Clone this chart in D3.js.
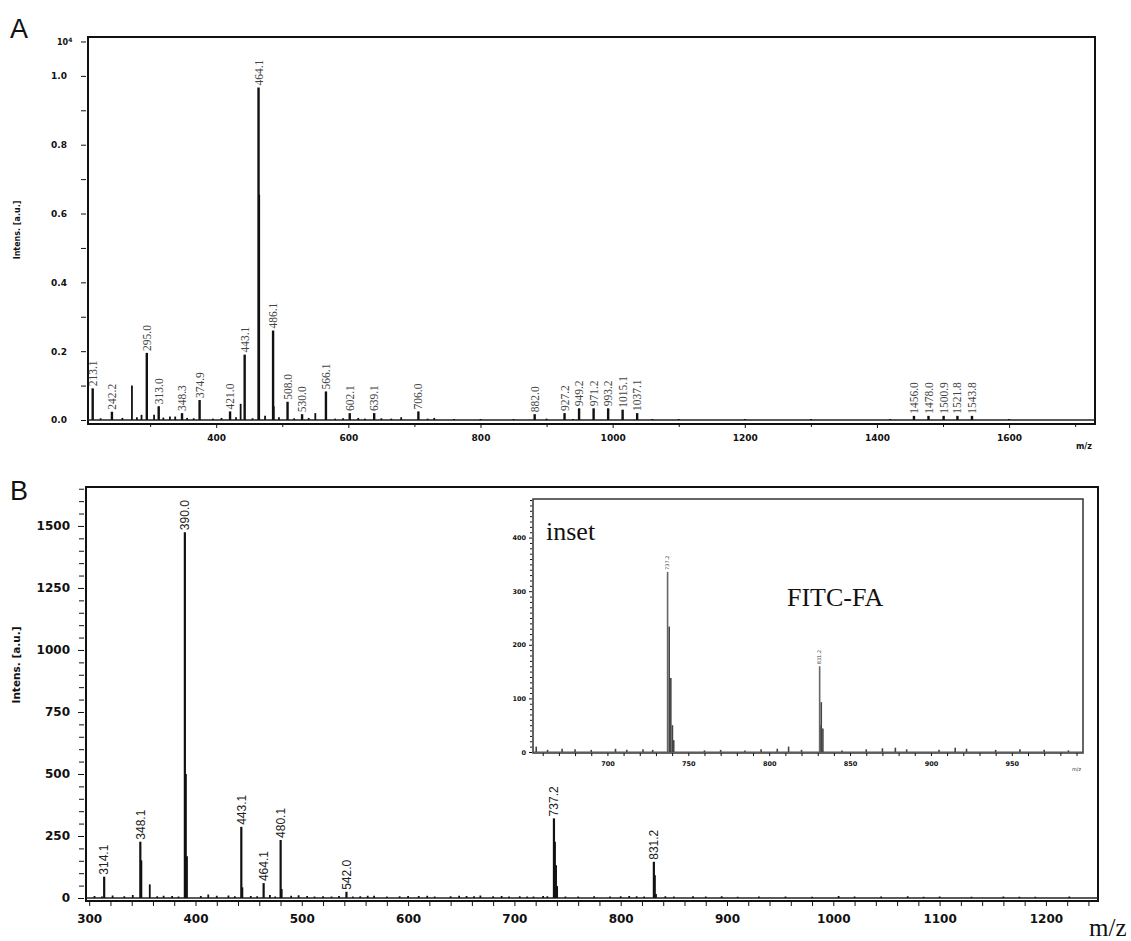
<!DOCTYPE html>
<html><head><meta charset="utf-8">
<script src="https://cdn.jsdelivr.net/npm/d3@7"></script>
<style>
body{margin:0;background:#fff;}
svg{display:block;}
.tk text{font-family:"DejaVu Sans",sans-serif;font-weight:bold;fill:#111;}
.tk line{stroke:#111;}
</style></head>
<body><svg id="c" width="1131" height="941"></svg>
<script>
// ---------- Panel A data (intensity in units of 10^4 a.u.) ----------
const peaksA_mz   = [213.1, 242.2, 295.0, 313.0, 348.3, 374.9, 421.0, 443.1, 464.1, 486.1, 508.0, 530.0, 566.1, 602.1, 639.1, 706.0, 882.0, 927.2, 949.2, 971.2, 993.2, 1015.1, 1037.1, 1456.0, 1478.0, 1500.9, 1521.8, 1543.8];
const peaksA_int  = [0.092, 0.024, 0.195, 0.040, 0.020, 0.058, 0.025, 0.190, 0.966, 0.260, 0.053, 0.017, 0.083, 0.020, 0.020, 0.025, 0.017, 0.020, 0.034, 0.034, 0.034, 0.030, 0.020, 0.012, 0.012, 0.012, 0.012, 0.012];
const peaksA_lab  = ["213.1","242.2","295.0","313.0","348.3","374.9","421.0","443.1","464.1","486.1","508.0","530.0","566.1","602.1","639.1","706.0","882.0","927.2","949.2","971.2","993.2","1015.1","1037.1","1456.0","1478.0","1500.9","1521.8","1543.8"];
const extraA_mz   = [272.5, 287, 306, 338, 437, 465.1, 487.1, 550, 225, 258, 280, 320, 330, 356, 366, 395, 408, 430, 455, 474, 495, 518, 540, 580, 592, 615, 625, 650, 665, 680, 720, 730, 760, 800, 850, 900, 940, 1060, 1100, 1200, 1300, 1420, 1600];
const extraA_int  = [0.100, 0.015, 0.015, 0.010, 0.047, 0.655, 0.040, 0.020, 0.005, 0.006, 0.008, 0.007, 0.010, 0.006, 0.005, 0.004, 0.006, 0.008, 0.005, 0.012, 0.008, 0.005, 0.006, 0.004, 0.005, 0.006, 0.004, 0.005, 0.004, 0.008, 0.004, 0.006, 0.003, 0.003, 0.003, 0.004, 0.003, 0.003, 0.003, 0.003, 0.003, 0.003, 0.003];
const yTicksA = [0, 0.2, 0.4, 0.6, 0.8, 1.0];
const yMinorA = [0.1, 0.3, 0.5, 0.7, 0.9, 1.1];
const xTicksA = [400, 600, 800, 1000, 1200, 1400, 1600];
const xMinorA = [300, 500, 700, 900, 1100, 1300, 1500, 1700];

// ---------- Panel B data (a.u.) ----------
const peaksB_mz  = [314.1, 348.1, 390.0, 443.1, 464.1, 480.1, 542.0, 737.2, 831.2];
const peaksB_int = [86, 227, 1475, 287, 60, 234, 25, 321, 146];
const peaksB_lab = ["314.1","348.1","390.0","443.1","464.1","480.1","542.0","737.2","831.2"];
const extraB_mz  = [349.1, 357.0, 391.0, 392.0, 444.1, 481.1, 738.2, 739.2, 740.2, 832.2, 833.2,
  305, 312, 322, 333, 341, 364, 370, 378, 384, 405, 412, 420, 431, 437, 452, 458, 470, 475, 490, 497, 505, 512, 520, 528, 535, 548, 555, 562, 568, 580, 592, 600, 610, 618, 625, 640, 648, 655, 662, 668, 680, 688, 695, 705, 712, 718, 727, 731, 748, 760, 775, 790, 800, 808, 815, 822, 842, 850, 868, 880, 895, 910, 930, 955, 980, 1005, 1020, 1045, 1070, 1085, 1100, 1130, 1160, 1175, 1190, 1222];
const extraB_int = [152, 55, 500, 168, 43, 36, 227, 132, 48, 92, 16,
  8, 6, 10, 7, 12, 7, 9, 8, 6, 8, 14, 9, 10, 7, 8, 7, 12, 6, 9, 11, 8, 6, 7, 6, 8, 6, 7, 9, 9, 6, 7, 8, 8, 9, 6, 7, 9, 8, 7, 10, 7, 8, 6, 7, 6, 6, 8, 7, 6, 6, 7, 6, 7, 8, 7, 6, 7, 6, 7, 6, 7, 5, 6, 6, 5, 8, 6, 6, 7, 5, 6, 5, 6, 5, 5, 6];
const yTicksB = [0, 250, 500, 750, 1000, 1250, 1500];
const xTicksB = [300, 400, 500, 600, 700, 800, 900, 1000, 1100, 1200];

// ---------- Inset data ----------
const insetPeaks_mz  = [737.2, 831.2];
const insetPeaks_int = [336, 160];
const insetPeaks_lab = ["737.2", "831.2"];
const insetExtra_mz  = [738.2, 739.2, 740.2, 741.0, 832.2, 833.2, 832.0,
  656, 663, 672, 680, 690, 705, 712, 722, 728, 760, 770, 785, 795, 805, 812, 820, 845, 860, 870, 878, 885, 905, 915, 922, 940, 955, 970, 985];
const insetExtra_int = [234, 138, 50, 22, 93, 44, 50,
  10, 4, 6, 5, 4, 6, 4, 5, 4, 3, 4, 3, 5, 6, 10, 4, 3, 5, 7, 8, 5, 4, 8, 6, 4, 5, 4, 3];
const yTicksI = [0, 100, 200, 300, 400];
const xTicksI = [700, 750, 800, 850, 900, 950];

const svg = d3.select("#c");
const range = (a,b,s)=>d3.range(a,b+s/2,s);

// ================= PANEL A =================
const xA = d3.scaleLinear().domain([206, 1730]).range([88, 1095]);
const yA = d3.scaleLinear().domain([0, 1.113]).range([420, 37]);
const gA = svg.append("g");
gA.append("rect").attr("x",88).attr("y",37).attr("width",1007).attr("height",387)
  .attr("fill","none").attr("stroke","#111").attr("stroke-width",2);
gA.append("line").attr("x1",88).attr("x2",1095).attr("y1",yA(0)).attr("y2",yA(0))
  .attr("stroke","#222").attr("stroke-width",1.5);
const axYA = gA.append("g").attr("class","tk").attr("transform","translate(86,0)")
  .call(d3.axisLeft(yA).tickValues(yTicksA).tickFormat(d3.format(".1f")).tickSize(5).tickPadding(14));
axYA.select(".domain").remove();
axYA.selectAll("text").attr("font-size",9);
const axYAm = gA.append("g").attr("class","tk").attr("transform","translate(86,0)")
  .call(d3.axisLeft(yA).tickValues(yMinorA).tickFormat("").tickSize(5));
axYAm.select(".domain").remove();
const axXA = gA.append("g").attr("class","tk").attr("transform","translate(0,424)")
  .call(d3.axisBottom(xA).tickValues(xTicksA).tickFormat(d3.format("d")).tickSize(4).tickPadding(7));
axXA.select(".domain").remove();
axXA.selectAll("text").attr("font-size",9);
const axXAm = gA.append("g").attr("class","tk").attr("transform","translate(0,424)")
  .call(d3.axisBottom(xA).tickValues(xMinorA).tickFormat("").tickSize(3));
axXAm.select(".domain").remove();
const t10 = gA.append("text").attr("x",57).attr("y",45).attr("font-family","DejaVu Sans").attr("font-weight","bold").attr("font-size",8).attr("fill","#111");
t10.append("tspan").text("10");
t10.append("tspan").attr("dy",-3).attr("font-size",6).text("4");
gA.append("text").attr("transform","translate(20,230) rotate(-90)").attr("text-anchor","middle")
  .attr("font-family","DejaVu Sans").attr("font-weight","bold").attr("font-size",8).attr("fill","#111").text("Intens. [a.u.]");
gA.append("text").attr("x",1076).attr("y",449).attr("font-family","DejaVu Sans").attr("font-weight","bold").attr("font-size",8).attr("fill","#111").text("m/z");
gA.append("text").attr("x",10).attr("y",38).attr("font-family","Liberation Sans").attr("font-size",27).attr("fill","#111").text("A");
const stickA = (mzs, ints, w) => gA.append("g").selectAll("line").data(mzs.map((m,i)=>({m, v:ints[i]}))).join("line")
  .attr("x1",d=>xA(d.m)).attr("x2",d=>xA(d.m)).attr("y1",yA(0)).attr("y2",d=>yA(d.v))
  .attr("stroke","#111").attr("stroke-width",w);
stickA(extraA_mz, extraA_int, 1.8);
stickA(peaksA_mz, peaksA_int, 2.4);
gA.append("g").selectAll("text").data(peaksA_mz.map((m,i)=>({m, v:peaksA_int[i], t:peaksA_lab[i]}))).join("text")
  .attr("transform",d=>`translate(${xA(d.m)},${yA(d.v)-2}) rotate(-90)`)
  .attr("dy","0.35em").attr("font-family","Liberation Serif").attr("font-size",11.5).attr("fill","#444")
  .text(d=>d.t);

// ================= PANEL B =================
const xB = d3.scaleLinear().domain([297, 1249]).range([86, 1098]);
const yB = d3.scaleLinear().domain([0, 1657]).range([898, 487]);
const gB = svg.append("g");
gB.append("rect").attr("x",86).attr("y",487).attr("width",1012).attr("height",414)
  .attr("fill","none").attr("stroke","#111").attr("stroke-width",2);
gB.append("line").attr("x1",86).attr("x2",1098).attr("y1",yB(0)).attr("y2",yB(0))
  .attr("stroke","#222").attr("stroke-width",1.5);
const axYB = gB.append("g").attr("class","tk").attr("transform","translate(84,0)")
  .call(d3.axisLeft(yB).tickValues(yTicksB).tickFormat(d3.format("d")).tickSize(6).tickPadding(8));
axYB.select(".domain").remove();
axYB.selectAll("text").attr("font-size",12);
const axYBm = gB.append("g").attr("class","tk").attr("transform","translate(84,0)")
  .call(d3.axisLeft(yB).tickValues(range(0,1650,50).filter(v=>v%250)).tickFormat("").tickSize(5));
axYBm.select(".domain").remove();
const axXB = gB.append("g").attr("class","tk").attr("transform","translate(0,901)")
  .call(d3.axisBottom(xB).tickValues(xTicksB).tickFormat(d3.format("d")).tickSize(5).tickPadding(8));
axXB.select(".domain").remove();
axXB.selectAll("text").attr("font-size",12);
const axXBm = gB.append("g").attr("class","tk").attr("transform","translate(0,901)")
  .call(d3.axisBottom(xB).tickValues(range(300,1240,20).filter(v=>v%100)).tickFormat("").tickSize(5));
axXBm.select(".domain").remove();
gB.append("text").attr("transform","translate(20,665) rotate(-90)").attr("text-anchor","middle")
  .attr("font-family","DejaVu Sans").attr("font-weight","bold").attr("font-size",10.5).attr("fill","#111").text("Intens. [a.u.]");
gB.append("text").attr("x",1089).attr("y",936).attr("font-family","Liberation Serif").attr("font-size",25).attr("fill","#111").text("m/z");
gB.append("text").attr("x",10).attr("y",500).attr("font-family","Liberation Sans").attr("font-size",27).attr("fill","#111").text("B");
const stickB = (mzs, ints, w) => gB.append("g").selectAll("line").data(mzs.map((m,i)=>({m, v:ints[i]}))).join("line")
  .attr("x1",d=>xB(d.m)).attr("x2",d=>xB(d.m)).attr("y1",yB(0)).attr("y2",d=>yB(d.v))
  .attr("stroke","#111").attr("stroke-width",w);
stickB(extraB_mz, extraB_int, 1.8);
stickB(peaksB_mz, peaksB_int, 2.2);
gB.append("g").selectAll("text").data(peaksB_mz.map((m,i)=>({m, v:peaksB_int[i], t:peaksB_lab[i]}))).join("text")
  .attr("transform",d=>`translate(${xB(d.m)},${yB(d.v)-2}) rotate(-90)`)
  .attr("dy","0.35em").attr("font-family","Liberation Sans").attr("font-size",12).attr("fill","#222")
  .text(d=>d.t);

// ================= INSET =================
const xI = d3.scaleLinear().domain([654, 994]).range([533, 1083]);
const yI = d3.scaleLinear().domain([0, 472]).range([752, 499]);
const gI = svg.append("g");
gI.append("rect").attr("x",533).attr("y",499).attr("width",550).attr("height",254)
  .attr("fill","#fff").attr("stroke","#333").attr("stroke-width",1.5);
gI.append("line").attr("x1",533).attr("x2",1083).attr("y1",yI(0)).attr("y2",yI(0))
  .attr("stroke","#555").attr("stroke-width",1.2);
const axYI = gI.append("g").attr("class","tk").attr("transform","translate(532,0)")
  .call(d3.axisLeft(yI).tickValues(yTicksI).tickFormat(d3.format("d")).tickSize(3).tickPadding(3));
axYI.select(".domain").remove();
axYI.selectAll("text").attr("font-size",6.5).attr("font-weight","normal").attr("fill","#333");
const axYIm = gI.append("g").attr("class","tk").attr("transform","translate(532,0)")
  .call(d3.axisLeft(yI).tickValues(range(0,470,10).filter(v=>v%100)).tickFormat("").tickSize(2));
axYIm.select(".domain").remove();
const axXI = gI.append("g").attr("class","tk").attr("transform","translate(0,753)")
  .call(d3.axisBottom(xI).tickValues(xTicksI).tickFormat(d3.format("d")).tickSize(3).tickPadding(5));
axXI.select(".domain").remove();
axXI.selectAll("text").attr("font-size",6.5).attr("font-weight","normal").attr("fill","#333");
const axXIm = gI.append("g").attr("class","tk").attr("transform","translate(0,753)")
  .call(d3.axisBottom(xI).tickValues(range(660,990,10).filter(v=>v%50)).tickFormat("").tickSize(3));
axXIm.select(".domain").remove();
gI.append("text").attr("x",1072).attr("y",771).attr("font-family","DejaVu Sans").attr("font-size",5).attr("fill","#333").text("m/z");
gI.append("text").attr("x",546).attr("y",540).attr("font-family","Liberation Serif").attr("font-size",26).attr("fill","#111").text("inset");
gI.append("text").attr("x",787).attr("y",606).attr("font-family","Liberation Serif").attr("font-size",26).attr("fill","#111").text("FITC-FA");
const stickI = (mzs, ints, w, c) => gI.append("g").selectAll("line").data(mzs.map((m,i)=>({m, v:ints[i]}))).join("line")
  .attr("x1",d=>xI(d.m)).attr("x2",d=>xI(d.m)).attr("y1",yI(0)).attr("y2",d=>yI(d.v))
  .attr("stroke",c).attr("stroke-width",w);
stickI(insetExtra_mz, insetExtra_int, 1.6, "#444");
stickI(insetPeaks_mz, insetPeaks_int, 1.6, "#666");
gI.append("g").selectAll("text").data(insetPeaks_mz.map((m,i)=>({m, v:insetPeaks_int[i], t:insetPeaks_lab[i]}))).join("text")
  .attr("transform",d=>`translate(${xI(d.m)},${yI(d.v)-2}) rotate(-90)`)
  .attr("dy","0.35em").attr("font-family","DejaVu Sans").attr("font-size",5).attr("fill","#444")
  .text(d=>d.t);
</script></body></html>
